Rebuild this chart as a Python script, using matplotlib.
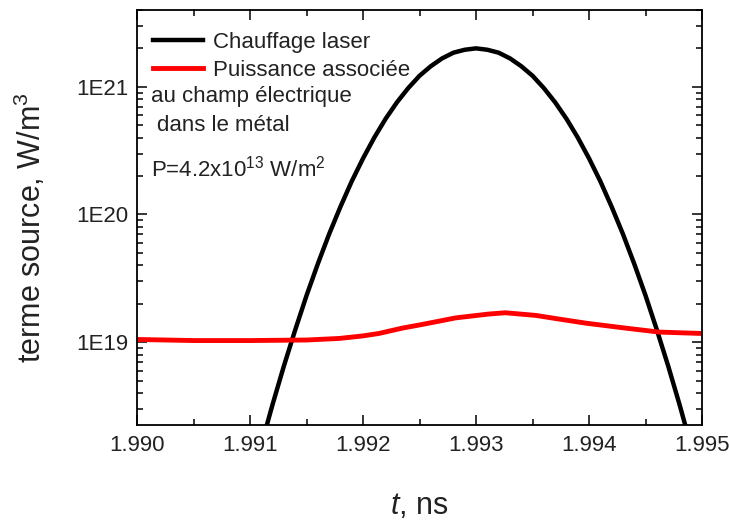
import numpy as np
import matplotlib
matplotlib.use('Agg')
import matplotlib.pyplot as plt
from matplotlib.ticker import MultipleLocator, LogLocator, FixedLocator, NullFormatter

plt.rcParams['font.family'] = ['Liberation Sans', 'DejaVu Sans']
plt.rcParams['mathtext.fontset'] = 'custom'
plt.rcParams['mathtext.rm'] = 'Liberation Sans'
plt.rcParams['mathtext.it'] = 'Liberation Sans:italic'

# chauffage laser (black curve)
t_laser = [1.9911, 1.9912, 1.9913, 1.9914, 1.9915, 1.9916, 1.9917, 1.9918, 1.9919, 1.9920,
           1.9921, 1.9922, 1.9923, 1.9924, 1.9925, 1.9926, 1.9927, 1.9928, 1.9929, 1.9930,
           1.9931, 1.9932, 1.9933, 1.9934, 1.9935, 1.9936, 1.9937, 1.9938, 1.9939, 1.9940,
           1.9941, 1.9942, 1.9943, 1.9944, 1.9945, 1.9946, 1.9947, 1.9948, 1.9949]
q_laser = [1.57e18, 3.27e18, 6.53e18, 1.25e19, 2.32e19, 4.11e19, 7.03e19, 1.15e20, 1.82e20, 2.75e20,
           4.01e20, 5.62e20, 7.56e20, 9.77e20, 1.22e21, 1.45e21, 1.67e21, 1.85e21, 1.95e21, 2.0e21,
           1.95e21, 1.85e21, 1.67e21, 1.45e21, 1.22e21, 9.77e20, 7.56e20, 5.62e20, 4.01e20, 2.75e20,
           1.82e20, 1.15e20, 7.03e19, 4.11e19, 2.32e19, 1.25e19, 6.53e18, 3.27e18, 1.57e18]

# puissance associee au champ electrique (red curve)
t_champ = [1.990, 1.9905, 1.991, 1.9915, 1.99179, 1.992, 1.99214, 1.99235, 1.99253,
           1.99282, 1.99311, 1.99326, 1.99353, 1.99375, 1.99397, 1.99432, 1.99462, 1.995]
q_champ = [1.05e19, 1.03e19, 1.03e19, 1.04e19, 1.07e19, 1.12e19, 1.17e19, 1.29e19, 1.38e19,
           1.55e19, 1.66e19, 1.70e19, 1.62e19, 1.51e19, 1.41e19, 1.29e19, 1.20e19, 1.17e19]

x_ticks = [1.990, 1.991, 1.992, 1.993, 1.994, 1.995]
y_ticks = [1e19, 1e20, 1e21]
y_ticklabels = ['1E19', '1E20', '1E21']

fig = plt.figure(figsize=(7.29, 5.22), dpi=100)
ax = fig.add_axes([0.188, 0.186, 0.775, 0.795])

ax.plot(t_laser, q_laser, color='black', lw=3.2, solid_joinstyle='round',
        label='Chauffage laser')
ax.plot(t_champ, q_champ, color='#ff0000', lw=3.5, solid_joinstyle='round',
        label='Puissance associée')

ax.set_yscale('log')
ax.set_xlim(1.990, 1.995)
ax.set_ylim(2.25e18, 4e21)

ax.set_xticks(x_ticks)
ax.set_xticklabels(['%.3f' % v for v in x_ticks])
ax.xaxis.set_minor_locator(MultipleLocator(0.0005))
ax.yaxis.set_major_locator(FixedLocator(y_ticks))
ax.set_yticklabels(y_ticklabels)
ax.yaxis.set_minor_locator(LogLocator(base=10, subs=np.arange(2, 10)))
ax.yaxis.set_minor_formatter(NullFormatter())

ax.tick_params(which='both', direction='in', top=True, right=True, width=1.1,
               labelsize=16, labelcolor='#222222')
ax.tick_params(axis='x', pad=7.5)
ax.tick_params(axis='y', pad=6.5)
ax.tick_params(which='major', length=7)
ax.tick_params(which='minor', length=4)
for s in ax.spines.values():
    s.set_linewidth(1.3)

ax.set_ylabel('terme source, W/m$^3$', fontsize=22, color='#222222')
ax.yaxis.set_label_coords(-0.157, 0.476)
ax.set_xlabel('$t$, ns', fontsize=22, color='#222222')
ax.xaxis.set_label_coords(0.5, -0.16)

leg = ax.legend(loc='upper left', bbox_to_anchor=(0.0, 0.984), frameon=False,
                fontsize=16, handlelength=2.25, handletextpad=0.45, labelspacing=0.3,
                borderaxespad=0.3)
for txt in leg.get_texts():
    txt.set_color('#222222')

ax.text(0.024, 0.779, 'au champ électrique', transform=ax.transAxes, fontsize=16,
        va='baseline', color='#222222')
ax.text(0.035, 0.709, 'dans le métal', transform=ax.transAxes, fontsize=16,
        va='baseline', color='#222222')
ax.text(0.024, 0.598, 'P=4.2x10$^{13}$ W/m$^2$', transform=ax.transAxes, fontsize=16,
        va='baseline', color='#222222')

fig.savefig('out.png', dpi=100)
